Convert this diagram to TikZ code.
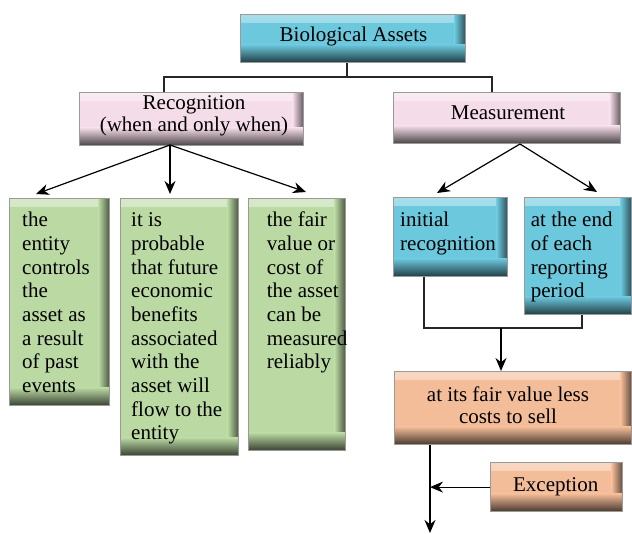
\documentclass[tikz,border=0pt]{standalone}
\usepackage{fontspec}
\setmainfont{Liberation Serif}
\usetikzlibrary{arrows.meta}
\definecolor{cyanb}{HTML}{6CC8DD}
\definecolor{pinkb}{HTML}{F4DDE9}
\definecolor{greenb}{HTML}{BAD9A3}
\definecolor{orangeb}{HTML}{F4BD99}
\definecolor{edgec}{HTML}{9A9A9A}
\tikzset{
  bx/.style={draw=edgec, line width=1.2pt, fill=#1, inner sep=0pt, anchor=north west,
    path picture={
      \shade[top color=#1!60!white, bottom color=#1] (path picture bounding box.north west) rectangle ([yshift=-8pt]path picture bounding box.north east);
      \shade[left color=#1, right color=#1!40!black] ([xshift=-11pt]path picture bounding box.north east) rectangle (path picture bounding box.south east);
      \shade[top color=#1, bottom color=#1!30!black] ([yshift=18pt]path picture bounding box.south west) rectangle (path picture bounding box.south east);
    }},
  txt/.style={inner sep=0pt, anchor=base west, font=\fontsize{21}{23.7}\selectfont},
  ctxt/.style={inner sep=0pt, anchor=base, font=\fontsize{21}{21.7}\selectfont},
  conn/.style={draw=black!85, line width=1.1pt},
  arr/.style={draw=black, line width=1.2pt, -{Stealth[length=13pt,width=11pt]}}
}
\begin{document}
\begin{tikzpicture}[x=1pt,y=-1pt]
\useasboundingbox (0,0) rectangle (632,534);
% boxes
\node[bx=cyanb, minimum width=225pt, minimum height=48pt] (BA) at (240,14) {};
\node[bx=pinkb, minimum width=224pt, minimum height=53pt] (Rec) at (79,92) {};
\node[bx=pinkb, minimum width=227pt, minimum height=51pt] (Meas) at (393,92) {};
\node[bx=greenb, minimum width=100pt, minimum height=207pt] (G1) at (9,198) {};
\node[bx=greenb, minimum width=118pt, minimum height=257pt] (G2) at (120,198) {};
\node[bx=greenb, minimum width=97pt, minimum height=252pt] (G3) at (248,198) {};
\node[bx=cyanb, minimum width=114pt, minimum height=79pt] (IR) at (393,197) {};
\node[bx=cyanb, minimum width=107pt, minimum height=117pt] (EP) at (524,197) {};
\node[bx=orangeb, minimum width=237pt, minimum height=73pt] (FV) at (394,371) {};
\node[bx=orangeb, minimum width=132pt, minimum height=49pt] (EX) at (490,462) {};
% texts
\node[ctxt] (tBA) at (353.5,41.7) {Biological Assets};
\node[ctxt] (tRec) at (194,110) {\parbox[t]{220pt}{\centering Recognition\\(when and only when)}};
\node[ctxt] (tMeas) at (508,119.3) {Measurement};
\node[txt] (tG1) at (22,226.7) {\parbox[t]{90pt}{the\\entity\\controls\\the\\asset as\\a result\\of past\\events}};
\node[txt] (tG2) at (131,226.7) {\parbox[t]{110pt}{it is\\probable\\that future\\economic\\benefits\\associated\\with the\\asset will\\flow to the\\entity}};
\node[txt] (tG3) at (266.7,226.7) {\parbox[t]{90pt}{the fair\\value or\\cost of\\the asset\\can be\\measured\\reliably}};
\node[txt] (tIR) at (400,226.7) {\parbox[t]{110pt}{initial\\recognition}};
\node[txt] (tEP) at (530.7,226.7) {\parbox[t]{100pt}{at the end\\of each\\reporting\\period}};
\node[ctxt] (tFV) at (508,401.7) {\parbox[t]{230pt}{\centering at its fair value less\\costs to sell}};
\node[ctxt] (tEX) at (555.7,491.7) {Exception};
% connectors
\coordinate (jc) at (347,77);
\coordinate (jl) at (164,77);
\coordinate (jr) at (492,77);
\draw[conn] (BA.south -| jc) -- (jc);
\draw[conn] (Rec.north -| jl) -- (jl) -- (jr) -- (Meas.north -| jr);
\coordinate (rs) at (170,145);
\coordinate (t1) at (36,194);
\coordinate (t2) at (170,194);
\coordinate (t3) at (306,192);
\draw[arr] (rs) -- (t1);
\draw[arr] (rs) -- (t2);
\draw[arr] (rs) -- (t3);
\coordinate (ms) at (520,144);
\coordinate (t4) at (437,193);
\coordinate (t5) at (597,192);
\draw[arr] (ms) -- (t4);
\draw[arr] (ms) -- (t5);
\coordinate (m1) at (424,328);
\coordinate (m2) at (582,328);
\coordinate (m3) at (501,328);
\draw[conn] (IR.south -| m1) -- (m1) -- (m2) -- (EP.south -| m2);
\draw[arr] (m3) -- (FV.north -| m3);
\coordinate (f1) at (430,533);
\draw[arr] (FV.south -| f1) -- (f1);
\draw[arr] (EX.west) -- (EX.west -| f1);
\end{tikzpicture}
\end{document}
